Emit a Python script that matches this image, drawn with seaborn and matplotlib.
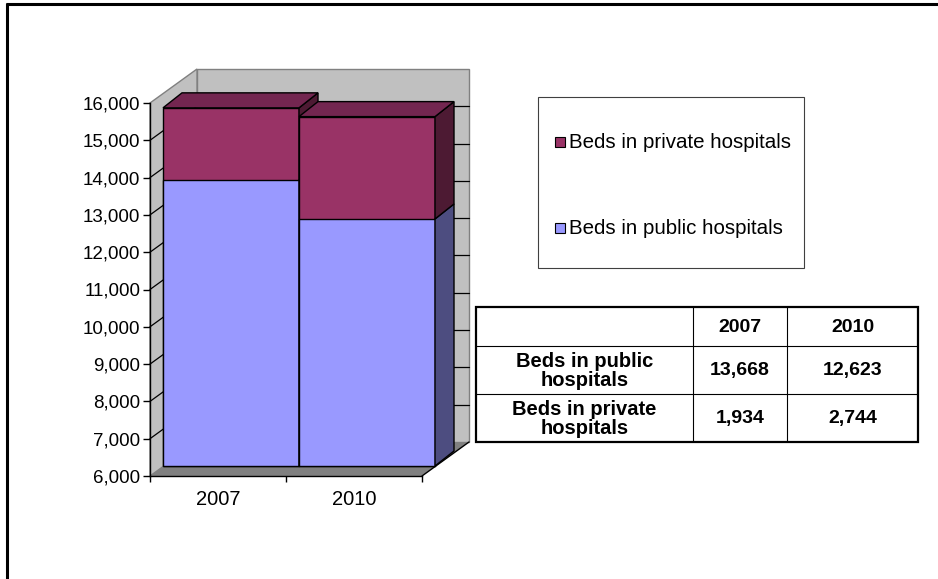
import matplotlib
matplotlib.use("Agg")
import matplotlib.pyplot as plt
import seaborn as sns
import pandas as pd
from matplotlib.patches import Polygon, Rectangle

# ---------------- data ----------------
years = ["2007", "2010"]
public_beds = [13668, 12623]
private_beds = [1934, 2744]
series_labels = ["Beds in public hospitals", "Beds in private hospitals"]
table_row_labels = ["Beds in public\nhospitals", "Beds in private\nhospitals"]
y_ticks = [6000, 7000, 8000, 9000, 10000, 11000, 12000, 13000, 14000, 15000, 16000]

# ---------------- style ----------------
sns.set_style("white")
plt.rcParams['font.family'] = ['Liberation Sans', 'DejaVu Sans']
for k in ("text.color", "axes.labelcolor", "xtick.color", "ytick.color"):
    plt.rcParams[k] = "black"

PUB_FRONT = "#9999FF"
PUB_SIDE = "#4D4D80"
PRI_FRONT = "#993366"
PRI_SIDE = "#4D1A33"
PRI_TOP = "#732650"
WALL = "#C0C0C0"
FLOOR = "#808080"
EDGE_GRAY = "#808080"

W, H = 938, 579
fig = plt.figure(figsize=(W / 100, H / 100), dpi=100)
fig.patch.set_facecolor("white")

# main axes: front (axis) plane
ax_l, ax_r, ax_t, ax_b = 150, 422, 103, 476
ax = fig.add_axes([ax_l / W, (H - ax_b) / H, (ax_r - ax_l) / W, (ax_b - ax_t) / H])
ax.patch.set_visible(False)

YMIN, YMAX = y_ticks[0], y_ticks[-1]
PXX = 2.0 / (ax_r - ax_l)
PXY = (YMAX - YMIN) / (ax_b - ax_t)


def off(x, y, dx, dy):
    return (x + dx * PXX, y + dy * PXY)


FRONT = (13, 10)   # bar front-face shift (px)
DEPTH = (19, 15)   # bar depth (px)
WALLD = (47, 34)   # wall depth (px)

totals = [a + b for a, b in zip(public_beds, private_beds)]
df_tot = pd.DataFrame({"year": years, "value": totals})
df_pub = pd.DataFrame({"year": years, "value": public_beds})

sns.barplot(data=df_tot, x="year", y="value", color=PRI_FRONT, saturation=1,
            width=1.0, edgecolor="black", linewidth=1.0, ax=ax)
sns.barplot(data=df_pub, x="year", y="value", color=PUB_FRONT, saturation=1,
            width=1.0, edgecolor="black", linewidth=1.0, ax=ax)
bar_patches = [p for p in ax.patches if isinstance(p, Rectangle)]

ax.set_xlim(-0.5, 1.5)
ax.set_ylim(YMIN, YMAX)

# --- walls & floor ---
x0w, x1w = -0.5, 1.5
back = Polygon([off(x0w, YMIN, *WALLD), off(x1w, YMIN, *WALLD),
                off(x1w, YMAX, *WALLD), off(x0w, YMAX, *WALLD)],
               closed=True, facecolor=WALL, edgecolor=EDGE_GRAY, lw=1.0,
               zorder=0.5, clip_on=False)
ax.add_patch(back)
left = Polygon([(x0w, YMIN), (x0w, YMAX), off(x0w, YMAX, *WALLD), off(x0w, YMIN, *WALLD)],
               closed=True, facecolor=WALL, edgecolor=EDGE_GRAY, lw=1.0,
               zorder=0.5, clip_on=False)
ax.add_patch(left)
floor = Polygon([(x0w, YMIN), (x1w, YMIN), off(x1w, YMIN, *WALLD), off(x0w, YMIN, *WALLD)],
                closed=True, facecolor=FLOOR, edgecolor="none", lw=0,
                zorder=0.7, clip_on=False)
ax.add_patch(floor)
ax.plot([x1w, off(x1w, YMIN, *WALLD)[0]], [YMIN, off(x1w, YMIN, *WALLD)[1]],
        color="black", lw=1.0, zorder=0.8, clip_on=False)

for v in y_ticks[1:-1]:
    a = off(x0w, v, *WALLD)
    b = off(x1w, v, *WALLD)
    ax.plot([a[0], b[0]], [a[1], b[1]], color="black", lw=0.9, zorder=0.6, clip_on=False)
    ax.plot([x0w, a[0]], [v, a[1]], color="black", lw=0.9, zorder=0.6, clip_on=False)

# --- bars: shift to front-face plane and add 3D faces ---
n = len(years)
pri_bars = bar_patches[:n]
pub_bars = bar_patches[n:2 * n]

base = off(0, YMIN, *FRONT)[1]
for i in range(n):
    z = 2 + i
    for p, val in ((pri_bars[i], totals[i]), (pub_bars[i], public_beds[i])):
        p.set_x(p.get_x() + FRONT[0] * PXX)
        p.set_y(base)
        p.set_height(val - YMIN)
        p.set_clip_on(False)
    pri_bars[i].set_zorder(z)
    pub_bars[i].set_zorder(z + 0.1)
    bx0 = pri_bars[i].get_x()
    bx1 = bx0 + pri_bars[i].get_width()
    y_pub = base + public_beds[i] - YMIN
    y_tot = base + totals[i] - YMIN
    faces = [
        ([(bx1, base), (bx1, y_pub), off(bx1, y_pub, *DEPTH), off(bx1, base, *DEPTH)], PUB_SIDE),
        ([(bx1, y_pub), (bx1, y_tot), off(bx1, y_tot, *DEPTH), off(bx1, y_pub, *DEPTH)], PRI_SIDE),
        ([(bx0, y_tot), (bx1, y_tot), off(bx1, y_tot, *DEPTH), off(bx0, y_tot, *DEPTH)], PRI_TOP),
    ]
    for pts, col in faces:
        ax.add_patch(Polygon(pts, closed=True, facecolor=col, edgecolor="black",
                             lw=1.0, zorder=z + 0.2, clip_on=False))

# --- axes styling ---
for s in ("top", "right"):
    ax.spines[s].set_visible(False)
for s in ("left", "bottom"):
    ax.spines[s].set_color("black")
    ax.spines[s].set_linewidth(1.0)
    ax.spines[s].set_zorder(0.9)

ax.set_yticks(y_ticks)
ax.set_yticklabels([f"{v:,}" for v in y_ticks])
ax.tick_params(axis="y", direction="out", length=5, width=1, color="black",
               pad=2, labelsize=13.5, left=True, labelcolor="black")
ax.set_xticks(range(n))
ax.set_xticklabels(years)
ax.set_xticks([-0.5, 0.5, 1.5], minor=True)
ax.tick_params(axis="x", which="major", length=0, pad=10, labelsize=14.5, labelcolor="black")
ax.tick_params(axis="x", which="minor", direction="out", length=4, width=1,
               color="black", bottom=True)
ax.set_xlabel("")
ax.set_ylabel("")

# ---------------- overlay: border, legend, table ----------------
ov = fig.add_axes([0, 0, 1, 1], zorder=-1)
ov.set_xlim(0, W)
ov.set_ylim(H, 0)
ov.axis("off")
ov.patch.set_visible(False)

ov.plot([6, W], [4, 4], color="black", lw=2.2, solid_capstyle="butt")
ov.plot([7, 7], [3, H], color="black", lw=2.2, solid_capstyle="butt")

# legend
ov.add_patch(Rectangle((538, 97), 266, 171, facecolor="white", edgecolor="#404040", lw=0.8))
legend_items = [(series_labels[1], PRI_FRONT, 142), (series_labels[0], PUB_FRONT, 228)]
for lab, col, yc in legend_items:
    ov.add_patch(Rectangle((555, yc - 5), 10, 10, facecolor=col, edgecolor="black", lw=0.8))
    ov.text(569, yc, lab, fontsize=14.8, va="center", ha="left", color="black")

# table
cols = [476, 693, 787, 918]
rows = [307, 346, 394, 442]
ov.add_patch(Rectangle((cols[0], rows[0]), cols[-1] - cols[0], rows[-1] - rows[0],
                       facecolor="white", edgecolor="black", lw=1.6))
for c in cols[1:-1]:
    ov.plot([c, c], [rows[0], rows[-1]], color="black", lw=0.8)
for r in rows[1:-1]:
    ov.plot([cols[0], cols[-1]], [r, r], color="black", lw=0.8)

def cell(ci, ri, txt, fs):
    ov.text((cols[ci] + cols[ci + 1]) / 2, (rows[ri] + rows[ri + 1]) / 2 + 1, txt,
            ha="center", va="center", fontsize=fs, fontweight="bold",
            linespacing=1.0, color="black")

for j, yr in enumerate(years):
    cell(j + 1, 0, yr, 14)
for i, (lab, vals) in enumerate(zip(table_row_labels, [public_beds, private_beds])):
    cell(0, i + 1, lab, 14.5)
    for j, v in enumerate(vals):
        cell(j + 1, i + 1, f"{v:,}", 14)

fig.savefig("out.png", dpi=100, facecolor="white")
